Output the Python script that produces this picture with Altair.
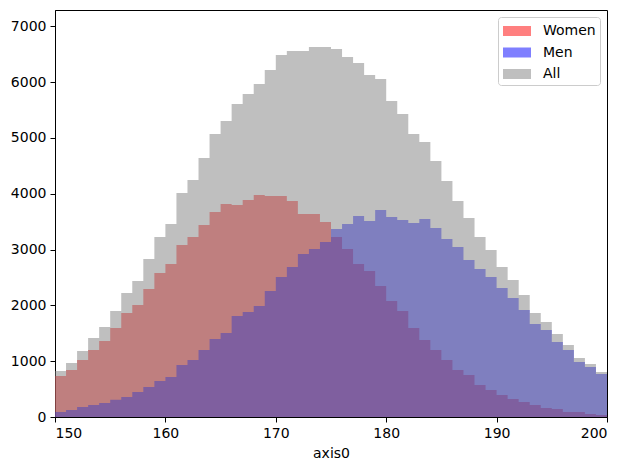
import altair as alt
import pandas as pd

bins = list(range(150, 200))
women = [735, 842, 1021, 1201, 1362, 1595, 1864, 2007, 2294, 2581,
         2742, 3082, 3226, 3441, 3674, 3817, 3799, 3889, 3978, 3961,
         3961, 3871, 3638, 3638, 3495, 3226, 3011, 2742, 2616, 2348,
         2079, 1900, 1595, 1380, 1201, 1021, 842, 753, 573, 484,
         394, 323, 269, 215, 161, 143, 90, 90, 54, 36]
men = [90, 125, 179, 215, 251, 311, 358, 448, 538, 645,
       717, 932, 1021, 1201, 1398, 1505, 1810, 1882, 1989, 2258,
       2509, 2688, 2921, 3011, 3136, 3369, 3459, 3602, 3513, 3710,
       3584, 3530, 3477, 3548, 3387, 3190, 3047, 2814, 2652, 2509,
       2312, 2133, 1918, 1667, 1559, 1344, 1201, 986, 896, 771]
all_ = [824, 968, 1183, 1416, 1613, 1900, 2222, 2437, 2832, 3226,
        3459, 4014, 4247, 4642, 5072, 5305, 5609, 5789, 5968, 6219,
        6487, 6559, 6559, 6631, 6631, 6595, 6452, 6344, 6129, 6057,
        5663, 5430, 5072, 4928, 4588, 4229, 3871, 3566, 3226, 2993,
        2688, 2455, 2186, 1864, 1703, 1487, 1290, 1057, 950, 806]
series_names = ["Women", "Men", "All"]
series_colors = ["red", "blue", "gray"]

rows = []
for name, vals in zip(series_names, [women, men, all_]):
    edges = bins + [bins[-1] + 1]
    v = vals + [vals[-1]]
    for e, c in zip(edges, v):
        rows.append({"edge": e, "count": c, "series": name})
df = pd.DataFrame(rows)

font = "DejaVu Sans"
color = alt.Color(
    "series:N",
    scale=alt.Scale(domain=series_names, range=series_colors),
    legend=alt.Legend(
        title=None, orient="none", legendX=443, legendY=7,
        symbolType="M-1.4,-0.5H1.4V0.5H-1.4Z", symbolSize=400, symbolOpacity=0.5,
        symbolStrokeWidth=0, symbolOffset=5, labelFontSize=14, labelFont=font,
        labelColor="black", labelOffset=16, rowPadding=4.5, padding=4,
        strokeColor="#cccccc", fillColor="white", cornerRadius=3, labelLimit=200,
    ),
)

layers = []
for name in series_names:
    layers.append(
        alt.Chart(df).transform_filter(alt.datum.series == name)
        .mark_area(interpolate="step-after", opacity=0.5)
        .encode(
            x=alt.X("edge:Q", scale=alt.Scale(domain=[150, 200], nice=False, zero=False),
                    axis=alt.Axis(values=[150, 160, 170, 180, 190, 200], title="axis0", format="d")),
            y=alt.Y("count:Q", stack=None,
                    scale=alt.Scale(domain=[0, 7292], nice=False),
                    axis=alt.Axis(values=[0, 1000, 2000, 3000, 4000, 5000, 6000, 7000],
                                  title=None, format="d")),
            color=color,
        )
    )

chart = alt.layer(*layers).properties(
    width=552, height=407, autosize="none",
    padding={"left": 55, "top": 10, "right": 23, "bottom": 53},
).configure_view(stroke="black", strokeWidth=1).configure_axis(
    grid=False, domainColor="black", tickColor="black", tickSize=5,
    labelFont=font, labelFontSize=14, labelColor="black", labelPadding=4,
    titleFont=font, titleFontSize=14, titleFontWeight="normal", titleColor="black",
    titlePadding=6,
)

chart.save("out.html", embed_options={"renderer": "svg", "actions": False})
